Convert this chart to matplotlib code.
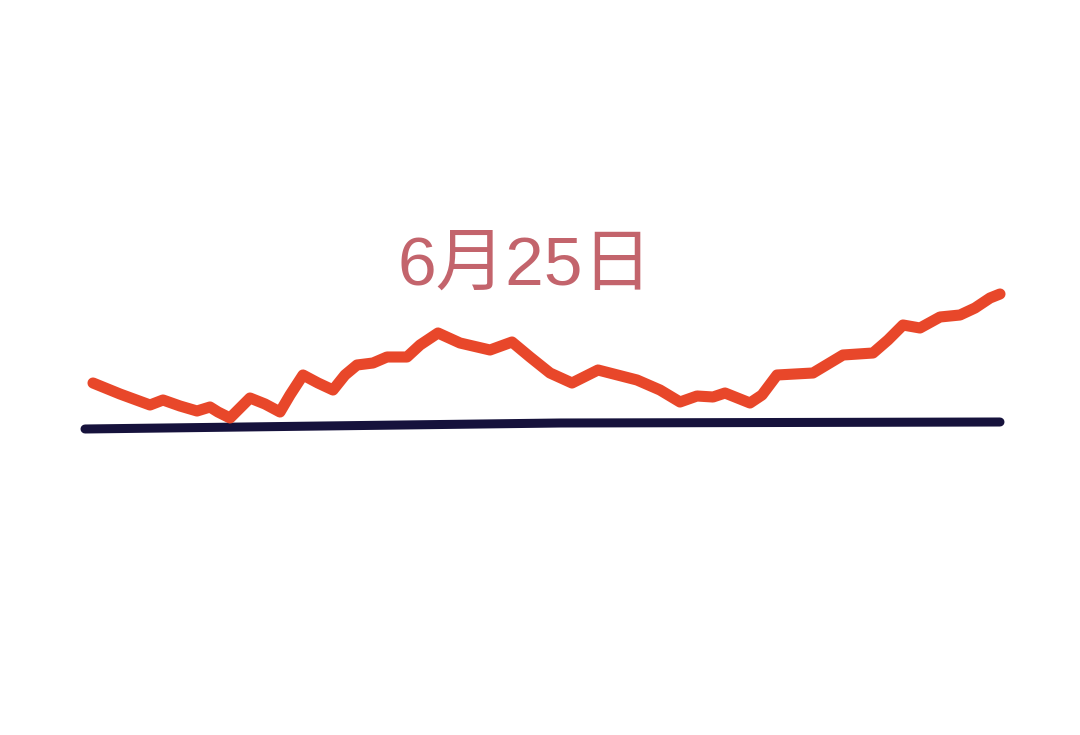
import matplotlib.pyplot as plt

# readings of the red trend line (x position, height)
trend_x = [93, 120, 150, 163, 180, 197, 210, 218, 230, 250, 265, 280, 290, 303, 318, 333,
           345, 357, 373, 387, 407, 420, 438, 460, 490, 512, 530, 550, 572, 598, 637, 660,
           680, 697, 713, 725, 750, 762, 777, 813, 843, 873, 888, 903, 920, 940, 960, 975,
           990, 1000]
trend_y = [352, 341, 330, 335, 329, 324, 328, 323, 317, 337, 331, 323, 340, 360, 352, 345,
           360, 370, 372, 378, 378, 390, 402, 392, 385, 393, 378, 362, 352, 365, 355, 345,
           333, 339, 338, 342, 332, 340, 360, 362, 380, 382, 395, 410, 407, 418, 420, 427,
           437, 441]

# dark baseline, start and end height
base_x = [85, 560, 1000]
base_y = [306, 312, 313]

label = "6月25日"

plt.rcParams['font.family'] = ['Liberation Sans', 'Noto Sans CJK SC', 'DejaVu Sans']

fig = plt.figure(figsize=(10.8, 7.35), dpi=100)
ax = fig.add_axes([0, 0, 1, 1])
ax.set_xlim(0, 1080)
ax.set_ylim(0, 735)
ax.axis('off')

# baseline
ax.plot(base_x, base_y, color='#16123c', linewidth=6.5, solid_capstyle='round')

# trend line
ax.plot(trend_x, trend_y, color='#e8472a', linewidth=8,
        solid_capstyle='round', solid_joinstyle='round')

# date label
ax.text(525, 468, label, color='#c3646c', fontsize=50, ha='center', va='center')

fig.savefig('out.png', dpi=100, facecolor='white')
